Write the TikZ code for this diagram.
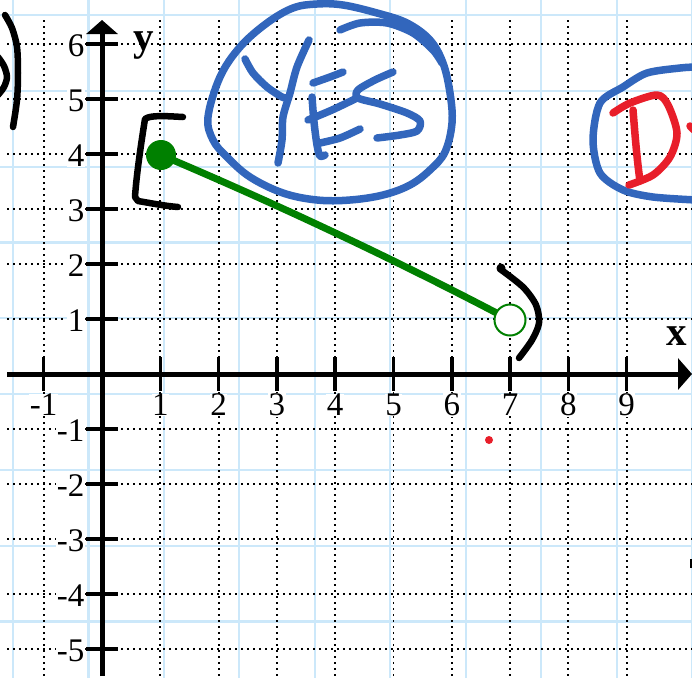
\documentclass[tikz,border=0pt]{standalone}
\usepackage{fontspec}
\setmainfont{Liberation Serif}
\usetikzlibrary{arrows.meta}
\definecolor{gridblue}{RGB}{204,232,250}
\definecolor{inkblue}{RGB}{50,102,188}
\definecolor{inkred}{RGB}{232,30,42}
\definecolor{ptgreen}{RGB}{0,128,0}
\begin{document}
\begin{tikzpicture}[x=1pt,y=-1pt,
  bluegrid/.style={gridblue,line width=2.2pt},
  dotgrid/.style={black,line width=1.9pt,dash pattern=on 1.9pt off 4.1pt},
  axisline/.style={black,line width=5pt,-{Triangle[width=31pt,length=14pt]}},
  tickmark/.style={black,line width=3.5pt},
  numlbl/.style={font=\fontsize{33}{33}\selectfont,fill=white,inner sep=0.5pt},
  axlbl/.style={font=\fontsize{41}{41}\selectfont\bfseries,inner sep=0pt},
  blueink/.style={inkblue,line width=7.5pt,line cap=round,line join=round},
  redink/.style={inkred,line width=7.5pt,line cap=round,line join=round},
  blackink/.style={black,line width=6.5pt,line cap=round,line join=round},
  greenseg/.style={ptgreen,line width=7pt,line cap=round},
]
\useasboundingbox (0,0) rectangle (692,678);
\fill[white] (0,0) rectangle (692,678);
% light blue paper grid
\foreach \i in {0,...,9} \draw[bluegrid] ({13+75.45*\i},0) -- ({13+75.45*\i},678);
\foreach \j in {0,...,8} \draw[bluegrid] (0,{15+75.8*\j}) -- (692,{15+75.8*\j});
% dotted unit grid
\foreach \k in {-1,1,2,3,4,5,6,7,8,9} \draw[dotgrid] ({102+58.3*\k},20) -- ({102+58.3*\k},678);
\foreach \k in {-5,-4,-3,-2,-1,1,2,3,4,5,6} \draw[dotgrid] (7,{374-55*\k}) -- (692,{374-55*\k});
% axes
\coordinate (xs) at (7,374);
\coordinate (xe) at (692,374);
\coordinate (ys) at (102,676);
\coordinate (ye) at (102,20);
\draw[axisline] (xs) -- (xe);
\draw[axisline] (ys) -- (ye);
% ticks
\foreach \k in {-1,1,2,3,4,5,6,7,8,9} \draw[tickmark] ({102+58.3*\k},357) -- ({102+58.3*\k},391);
\foreach \k in {-5,-4,-3,-2,-1,1,2,3,4,5,6} \draw[tickmark] (86,{374-55*\k}) -- (118,{374-55*\k});
% tick labels
\foreach \k in {-1,1,2,3,4,5,6,7,8,9} \node[numlbl] (lx\k) at ({102+58.3*\k},405) {\k};
\foreach \k in {-5,-4,-3,-2,-1,1,2,3,4,5,6} \node[numlbl,anchor=east] (ly\k) at (85,{376-55*\k}) {\k};
\node[axlbl] (ylab) at (144,46) {y};
\node[axlbl] (xlab) at (677,336) {x};
% green segment with endpoints
\coordinate (pA) at (161,155);
\coordinate (pB) at (510,320);
\draw[greenseg] (pA) .. controls (279,205) and (396,260) .. (pB);
\node[circle,draw=ptgreen,line width=2pt,fill=white,minimum size=31pt,inner sep=0pt] (open) at (pB) {};
\node[circle,fill=ptgreen,minimum size=30pt,inner sep=0pt] (closed) at (pA) {};
% bracket [ and parenthesis )
\draw[blackink] (183,117) .. controls (165,116) and (150,115) .. (145,119) .. controls (140,150) and (136,180) .. (135,197) -- (138,201) .. controls (150,203) and (165,206) .. (178,207);
\draw[blackink] plot[smooth] coordinates {(500,269) (523,287) (536,305) (539,323) (532,340) (519,358)};
\fill (501,268) circle (4.5pt);
% left edge black marks
\draw[blackink] plot[smooth] coordinates {(5,15) (12,28) (17,47) (18,73) (17,100) (13,127)};
\draw[blackink] plot[smooth] coordinates {(-2,57) (4,66) (7,77) (4,87) (-2,95)};
\draw[black,line width=2pt] (691,559) -- (691,568);
% blue circle with YES
\draw[blueink] plot[smooth cycle,tension=0.6] coordinates {(208,117) (220,77) (240,47) (267,23) (293,8) (317,4) (343,5) (377,13) (407,23) (430,40) (443,63) (450,93) (452,123) (445,152) (430,170) (410,185) (383,195) (350,200) (317,200) (283,193) (250,177) (227,157) (213,140)};
\draw[blueink] plot[smooth] coordinates {(340,30) (360,23) (387,23) (413,33) (433,50) (442,63)};
\draw[blueink] plot[smooth] coordinates {(245,59) (253,73) (267,87) (282,97) (288,98)};
\draw[blueink] plot[smooth] coordinates {(309,40) (297,67) (290,93) (283,117) (282,140) (278,163)};
\draw[blueink] plot[smooth] coordinates {(313,83) (330,77) (343,72)};
\draw[blueink] plot[smooth] coordinates {(312,97) (314,122) (317,145) (320,156) (325,155)};
\draw[blueink] plot[smooth] coordinates {(308,120) (332,110) (355,99)};
\draw[blueink] plot[smooth] coordinates {(320,143) (340,138) (360,129)};
\draw[blueink] plot[smooth] coordinates {(393,72) (375,80) (358,90) (358,98) (380,104) (407,113) (420,121) (417,131) (400,135) (377,138)};
% blue ellipse with red D at right edge
\draw[blueink] plot[smooth] coordinates {(696,67) (680,68) (647,73) (623,87) (600,103) (593,140) (600,173) (623,190) (653,197) (696,200)};
\draw[redink] (633,110) .. controls (635,135) and (637,160) .. (640,181);
\draw[redink] plot[smooth] coordinates {(613,113) (630,103) (657,95) (668,105) (677,133) (670,157) (653,175) (629,185)};
\draw[redink] (690,126) -- (694,130);
\fill[inkred] (489,440) circle (4pt);
\end{tikzpicture}
\end{document}
